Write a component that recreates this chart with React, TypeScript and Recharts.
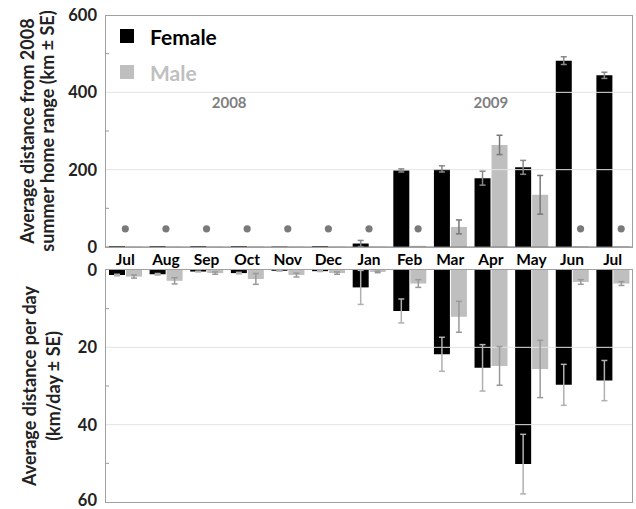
import React from "react";
import {
  ComposedChart,
  Bar,
  Line,
  XAxis,
  YAxis,
  ErrorBar,
  ReferenceLine,
  ReferenceDot,
  Legend,
} from "recharts";

const months = ["Jul", "Aug", "Sep", "Oct", "Nov", "Dec", "Jan", "Feb", "Mar", "Apr", "May", "Jun", "Jul"];

// distance from 2008 summer home range (km)
const femaleRange = [2, 2, 2, 2, 1, 2, 9, 198, 202, 178, 206, 482, 444];
const femaleRangeSE = [0, 0, 0, 0, 0, 0, 8, 4, 8, 18, 18, 10, 8];
const maleRange = [1, 1, 1, 1, 1, 1, 1, 3, 52, 264, 135, 2, 2];
const maleRangeSE = [0, 0, 0, 0, 0, 0, 0, 0, 18, 25, 50, 0, 0];
const dotCenter = [47, 47, 47, 47, 47, 47, 47, null, null, null, null, null, null];
const dotMale = [null, null, null, null, null, null, null, 47, null, null, null, 47, 47];

// distance per day (km/day)
const femaleDaily = [1.3, 1.1, 0.4, 0.8, 0.2, 0.3, 4.5, 10.6, 21.8, 25.3, 50.2, 29.7, 28.6];
const femaleDailySE = [0.2, 0.2, 0.1, 0.2, 0.1, 0.1, 4.4, 3.1, 4.4, 6, 7.7, 5.3, 5.2];
const maleDaily = [1.7, 2.8, 0.8, 2.3, 1.3, 0.8, 0.5, 3.5, 12.1, 24.8, 25.6, 3.1, 3.5];
const maleDailySE = [0.4, 0.8, 0.3, 1.4, 0.5, 0.3, 0.2, 1, 4, 5, 7.4, 0.6, 0.5];

const rangeTicks = [0, 100, 200, 300, 400, 500, 600];
const dailyTicks = [0, 10, 20, 30, 40, 50, 60];

const keys = months.map((m, i) => `${m}-${i}`);

const rangeData = keys.map((k, i) => ({
  key: k,
  female: femaleRange[i],
  femaleSE: femaleRangeSE[i],
  male: maleRange[i],
  maleSE: maleRangeSE[i],
  dotCenter: dotCenter[i],
  dotMale: dotMale[i],
}));

const dailyData = keys.map((k, i) => ({
  key: k,
  female: femaleDaily[i],
  femaleSE: femaleDailySE[i],
  male: maleDaily[i],
  maleSE: maleDailySE[i],
}));

const FONT = "Lato, 'Open Sans', sans-serif";
const FEMALE = "#000000";
const MALE = "#bfbfbf";
const DOT = "#7a7a7a";

const makeTick = (major: number) => (props: any) => {
  const { x, y, payload } = props;
  if (payload.value % major !== 0) {
    return <line x1={x + 8} x2={x + 12} y1={y} y2={y} stroke="#999" />;
  }
  return (
    <text x={x} y={y} textAnchor="end" dominantBaseline="central" fontSize={16.5} fontWeight="bold" fill="#222" fontFamily={FONT}>
      {payload.value}
    </text>
  );
};

const MonthTick = (props: any) => {
  const { x, y, index } = props;
  return (
    <text x={x} y={y} dy="0.75em" textAnchor="middle" fontSize={15.5} fontWeight="bold" fill="#000" fontFamily={FONT}>
      {months[index]}
    </text>
  );
};

const axisTitle = (lines: string[], xs: number[]) => (props: any) => {
  const vb = props.viewBox;
  const cy = vb.y + vb.height / 2;
  return (
    <g>
      {lines.map((t, i) => (
        <text
          key={i}
          x={xs[i]}
          y={cy}
          transform={`rotate(-90 ${xs[i]} ${cy})`}
          textAnchor="middle"
          dominantBaseline="central"
          fontSize={18}
          fontWeight="bold"
          fill="#222"
          fontFamily={FONT}
        >
          {t}
        </text>
      ))}
    </g>
  );
};

const CenterDot = (props: any) => {
  const { cx, cy, value, index } = props;
  if (value == null || cy == null) return <g key={`c${index}`} />;
  return <circle key={`c${index}`} cx={cx} cy={cy} r={3.6} fill={DOT} />;
};

const MaleDot = (props: any) => {
  const { cx, cy, value, index } = props;
  if (value == null || cy == null) return <g key={`m${index}`} />;
  return <circle key={`m${index}`} cx={cx + 8.5} cy={cy} r={3.6} fill={DOT} />;
};

const LegendBox = () => (
  <div style={{ fontFamily: FONT, fontWeight: "bold", fontSize: 21 }}>
    <div style={{ display: "flex", alignItems: "center", height: 36 }}>
      <span style={{ width: 14, height: 14, background: FEMALE, marginRight: 16 }} />
      <span style={{ color: FEMALE }}>Female</span>
    </div>
    <div style={{ display: "flex", alignItems: "center", height: 36 }}>
      <span style={{ width: 14, height: 14, background: MALE, marginRight: 16 }} />
      <span style={{ color: MALE }}>Male</span>
    </div>
  </div>
);

const frame = (top: number, height: number): React.CSSProperties => ({
  position: "absolute",
  left: 105,
  top,
  width: 528,
  height,
  border: "1px solid #a0a0a0",
  boxSizing: "border-box",
  pointerEvents: "none",
});

export default function App() {
  return (
    <div style={{ position: "absolute", left: 0, top: 0, width: 636, height: 509, background: "#fff", overflow: "hidden" }}>
      <div style={{ position: "absolute", left: 0, top: 250 }}>
        <ComposedChart width={636} height={259} data={dailyData} margin={{ top: 20, right: 3, bottom: 7, left: 0 }} barSize={16} barGap={1}>
          <XAxis dataKey="key" hide />
          <YAxis
            reversed
            domain={[0, 60]}
            ticks={dailyTicks}
            width={105}
            tickSize={0}
            tickMargin={8}
            axisLine={false}
            tickLine={false}
            tick={makeTick(20)}
            label={{ content: axisTitle(["Average distance per day", "(km/day ± SE)"], [29, 53]) }}
          />
          <ReferenceLine y={20} stroke="#e4e4e4" />
          <ReferenceLine y={40} stroke="#e4e4e4" />
          <Bar dataKey="female" fill={FEMALE} isAnimationActive={false}>
            <ErrorBar dataKey="femaleSE" width={3} stroke="#b0b0b0" />
          </Bar>
          <Bar dataKey="male" fill={MALE} isAnimationActive={false}>
            <ErrorBar dataKey="maleSE" width={3} stroke="#999" />
          </Bar>
        </ComposedChart>
      </div>
      <div style={{ position: "absolute", left: 0, top: 0 }}>
        <ComposedChart width={636} height={270} data={rangeData} margin={{ top: 15, right: 3, bottom: 0, left: 0 }} barSize={16} barGap={1}>
          <XAxis dataKey="key" height={23} tickSize={0} tickMargin={6} tickLine={false} axisLine={{ stroke: "#777" }} tick={<MonthTick />} interval={0} />
          <YAxis
            domain={[0, 600]}
            ticks={rangeTicks}
            width={105}
            tickSize={0}
            tickMargin={8}
            axisLine={false}
            tickLine={false}
            tick={makeTick(200)}
            label={{ content: axisTitle(["Average distance from 2008", "summer home range (km ± SE)"], [27, 47]) }}
          />
          <ReferenceLine y={200} stroke="#e4e4e4" />
          <ReferenceLine y={400} stroke="#e4e4e4" />
          <ReferenceDot
            x={keys[3]}
            y={373}
            r={0}
            fill="none"
            stroke="none"
            label={{ value: "2008", position: "center", dx: -18, fill: "#7f7f7f", fontSize: 15, fontWeight: "bold", fontFamily: FONT }}
          />
          <ReferenceDot
            x={keys[9]}
            y={373}
            r={0}
            fill="none"
            stroke="none"
            label={{ value: "2009", position: "center", fill: "#7f7f7f", fontSize: 15, fontWeight: "bold", fontFamily: FONT }}
          />
          <Legend
            layout="vertical"
            align="center"
            verticalAlign="middle"
            content={<LegendBox />}
            wrapperStyle={{ left: 120, top: 18, width: "auto" }}
          />
          <Bar dataKey="female" name="Female" fill={FEMALE} isAnimationActive={false}>
            <ErrorBar dataKey="femaleSE" width={3} stroke="#888" />
          </Bar>
          <Bar dataKey="male" name="Male" fill={MALE} isAnimationActive={false}>
            <ErrorBar dataKey="maleSE" width={3} stroke="#777" />
          </Bar>
          <Line dataKey="dotCenter" stroke="none" dot={<CenterDot />} activeDot={false} isAnimationActive={false} legendType="none" />
          <Line dataKey="dotMale" stroke="none" dot={<MaleDot />} activeDot={false} isAnimationActive={false} legendType="none" />
        </ComposedChart>
      </div>
      <div style={frame(15, 233)} />
      <div style={frame(269, 234)} />
    </div>
  );
}
